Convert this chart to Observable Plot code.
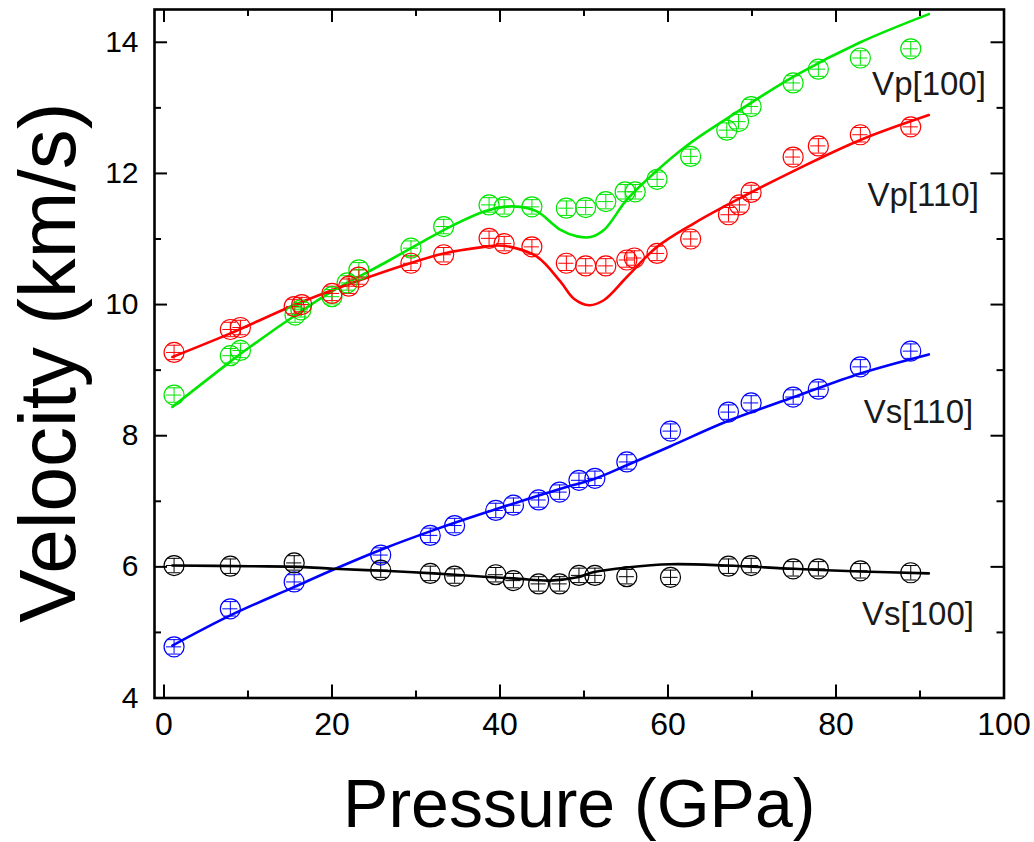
<!DOCTYPE html>
<html>
<head>
<meta charset="utf-8">
<script src="https://cdn.jsdelivr.net/npm/d3@7"></script>
<script src="https://cdn.jsdelivr.net/npm/@observablehq/plot@0.6"></script>
<style>
  html, body { margin: 0; padding: 0; background: #ffffff; }
  #chart svg { display: block; }
</style>
</head>
<body>
<div id="chart"></div>
<script>
// Vp[100] (green)
const vp100Pressure = [1.2, 7.9, 9.1, 15.6, 16.3, 20.0, 21.8, 23.2, 29.4, 33.3, 38.7, 40.5, 43.8, 47.9, 50.2, 52.6, 54.9, 56.1, 58.7, 62.7, 67.0, 68.4, 69.9, 74.9, 77.9, 82.9, 88.9];
const vp100Velocity = [8.62, 9.22, 9.30, 9.84, 9.92, 10.12, 10.33, 10.53, 10.86, 11.19, 11.52, 11.49, 11.49, 11.47, 11.48, 11.57, 11.72, 11.72, 11.91, 12.26, 12.66, 12.79, 13.02, 13.38, 13.59, 13.76, 13.90];
// Vp[110] (red)
const vp110Pressure = [1.2, 7.9, 9.1, 15.5, 16.4, 20.0, 22.0, 23.2, 29.4, 33.3, 38.7, 40.5, 43.8, 47.9, 50.2, 52.6, 55.1, 56.0, 58.7, 62.7, 67.2, 68.5, 69.9, 74.9, 77.9, 82.9, 88.9];
const vp110Velocity = [9.27, 9.62, 9.65, 9.97, 10.00, 10.17, 10.28, 10.42, 10.63, 10.76, 11.01, 10.93, 10.88, 10.63, 10.59, 10.59, 10.68, 10.71, 10.78, 11.00, 11.37, 11.52, 11.71, 12.25, 12.42, 12.59, 12.71];
// Vs[110] (blue) and Vs[100] (black) share pressures
const vsPressure = [1.2, 7.9, 15.5, 25.8, 31.7, 34.6, 39.5, 41.6, 44.6, 47.1, 49.4, 51.3, 55.1, 60.3, 67.2, 69.9, 74.9, 77.9, 82.9, 88.9];
const vs110Velocity = [4.78, 5.36, 5.77, 6.18, 6.48, 6.63, 6.86, 6.94, 7.02, 7.14, 7.32, 7.35, 7.60, 8.07, 8.36, 8.50, 8.59, 8.71, 9.05, 9.29];
const vs100Velocity = [6.02, 6.01, 6.06, 5.95, 5.90, 5.86, 5.88, 5.79, 5.74, 5.74, 5.87, 5.87, 5.85, 5.84, 6.01, 6.02, 5.97, 5.97, 5.94, 5.91];

// ---------- fitted curves (sampled from the figure) ----------
const vp100FitPressure = [1.0, 7.9, 10.3, 16.25, 20.0, 26.2, 30.1, 34.1, 38.1, 40.45, 42.4, 44.4, 47.2, 49.2, 50.8, 52.4, 55.1, 58.3, 62.3, 67.05, 75.0, 82.9, 91.05];
const vp100FitVelocity = [8.44, 9.13, 9.36, 9.89, 10.20, 10.63, 10.91, 11.19, 11.42, 11.49, 11.49, 11.42, 11.14, 11.04, 11.03, 11.14, 11.60, 12.00, 12.43, 12.84, 13.48, 14.00, 14.43];
const vp110FitPressure = [1.0, 7.9, 15.45, 22.2, 29.3, 33.3, 38.1, 39.7, 41.25, 44.4, 47.2, 48.8, 50.6, 52.4, 55.1, 58.7, 63.1, 67.05, 75.0, 82.9, 91.05];
const vp110FitVelocity = [9.20, 9.56, 9.99, 10.32, 10.63, 10.78, 10.88, 10.90, 10.88, 10.73, 10.35, 10.09, 9.99, 10.07, 10.42, 10.88, 11.24, 11.52, 12.04, 12.51, 12.89];
const vs110FitPressure = [1.0, 7.9, 15.45, 20.2, 26.2, 32.1, 38.1, 48.0, 51.2, 55.1, 60.3, 67.05, 75.0, 82.9, 91.05];
const vs110FitVelocity = [4.80, 5.26, 5.69, 5.96, 6.28, 6.56, 6.82, 7.22, 7.34, 7.55, 7.84, 8.22, 8.59, 8.95, 9.24];
const vs100FitPressure = [1.0, 10.3, 16.25, 20.2, 26.2, 32.1, 38.1, 42.0, 46.0, 49.2, 51.2, 55.1, 60.3, 67.05, 75.0, 82.9, 91.05];
const vs100FitVelocity = [6.02, 6.01, 6.00, 5.97, 5.94, 5.90, 5.85, 5.82, 5.79, 5.84, 5.92, 5.99, 6.04, 6.02, 5.97, 5.93, 5.90];

// error bar half-widths
const velocityError = 0.11;   // km/s
const pressureError = 0.9;    // GPa
const capHalfWidth = 0.75;    // GPa

// series names / colours
const seriesNames = ["Vp[100]", "Vp[110]", "Vs[110]", "Vs[100]"];
const seriesColors = ["#00e600", "#ff0000", "#0000ff", "#000000"];
// label anchors (pressure, velocity at text baseline start)
const labelPressure = [84.3, 83.75, 83.3, 83.1];
const labelVelocity = [13.2, 11.51, 8.195, 5.107];

// axis ticks
const pressureMajor = [0, 20, 40, 60, 80, 100];
const pressureMinor = [10, 30, 50, 70, 90];
const velocityMajor = [4, 6, 8, 10, 12, 14];
const velocityMinor = [5, 7, 9, 11, 13];

// ---------- build tables ----------
const pointSets = [
  [vp100Pressure, vp100Velocity],
  [vp110Pressure, vp110Velocity],
  [vsPressure, vs110Velocity],
  [vsPressure, vs100Velocity]
];
const fitSets = [
  [vp100FitPressure, vp100FitVelocity],
  [vp110FitPressure, vp110FitVelocity],
  [vs110FitPressure, vs110FitVelocity],
  [vs100FitPressure, vs100FitVelocity]
];
const points = [];
pointSets.forEach(([P, V], i) => P.forEach((p, j) => points.push({series: seriesNames[i], color: seriesColors[i], P: p, V: V[j]})));
const fits = [];
fitSets.forEach(([P, V], i) => P.forEach((p, j) => fits.push({series: seriesNames[i], color: seriesColors[i], P: p, V: V[j]})));
const labels = seriesNames.map((s, i) => ({name: s, P: labelPressure[i], V: labelVelocity[i]}));

// ---------- layout ----------
const W = 1034, H = 842;
const mL = 154, mR = 1034 - 1003.5, mT = 9, mB = 842 - 697.5;
const plotH = H - mT - mB;
const plotW = W - mL - mR;
const majorLen = 13, minorLen = 7;
const font = "'Liberation Sans', Arial, Helvetica, sans-serif";

const chart = Plot.plot({
  width: W,
  height: H,
  marginLeft: mL,
  marginRight: mR,
  marginTop: mT,
  marginBottom: mB,
  style: {fontFamily: font, background: "#ffffff", color: "#000000", overflow: "visible"},
  x: {domain: [-1.13, 100], label: null},
  y: {domain: [4, 14.5], label: null},
  marks: [
    // inward ticks: bottom / top
    Plot.ruleX(pressureMajor, {insetTop: plotH - majorLen, stroke: "#000", strokeWidth: 2}),
    Plot.ruleX(pressureMinor, {insetTop: plotH - minorLen, stroke: "#000", strokeWidth: 2}),
    Plot.ruleX(pressureMajor, {insetBottom: plotH - majorLen, stroke: "#000", strokeWidth: 2}),
    Plot.ruleX(pressureMinor, {insetBottom: plotH - minorLen, stroke: "#000", strokeWidth: 2}),
    // inward ticks: left / right
    Plot.ruleY(velocityMajor, {insetRight: plotW - majorLen, stroke: "#000", strokeWidth: 2}),
    Plot.ruleY(velocityMinor, {insetRight: plotW - minorLen, stroke: "#000", strokeWidth: 2}),
    Plot.ruleY(velocityMajor, {insetLeft: plotW - majorLen, stroke: "#000", strokeWidth: 2}),
    Plot.ruleY(velocityMinor, {insetLeft: plotW - minorLen, stroke: "#000", strokeWidth: 2}),
    // tick labels
    Plot.axisX(pressureMajor, {anchor: "bottom", tickSize: 0, tickPadding: 14, fontSize: 32, label: null, fill: "#000", tickFormat: d => String(d)}),
    Plot.axisY(velocityMajor, {anchor: "left", tickSize: 0, tickPadding: 16, fontSize: 30, label: null, fill: "#000", tickFormat: d => String(d)}),
    // fitted curves
    Plot.line(fits, {x: "P", y: "V", z: "series", stroke: "color", strokeWidth: 2.6, curve: "catmull-rom"}),
    // error bars
    Plot.ruleX(points, {x: "P", y1: d => d.V - velocityError, y2: d => d.V + velocityError, stroke: "color", strokeWidth: 1}),
    Plot.ruleY(points, {y: d => d.V + velocityError, x1: d => d.P - capHalfWidth, x2: d => d.P + capHalfWidth, stroke: "color", strokeWidth: 1}),
    Plot.ruleY(points, {y: d => d.V - velocityError, x1: d => d.P - capHalfWidth, x2: d => d.P + capHalfWidth, stroke: "color", strokeWidth: 1}),
    Plot.ruleY(points, {y: "V", x1: d => d.P - pressureError, x2: d => d.P + pressureError, stroke: "color", strokeWidth: 1}),
    // markers
    Plot.dot(points, {x: "P", y: "V", r: 10, stroke: "color", strokeWidth: 1.2, fill: "none"}),
    // series labels
    Plot.text(labels, {x: "P", y: "V", text: "name", textAnchor: "start", lineAnchor: "bottom", fontSize: 33, fill: "#1a1a1a"}),
    // axis titles
    Plot.text(["Pressure (GPa)"], {frameAnchor: "bottom", text: d => d, textAnchor: "middle", lineAnchor: "bottom", dy: 128.5, fontSize: 68, fill: "#000"}),
    Plot.text(["Velocity (km/s)"], {frameAnchor: "left", text: d => d, rotate: -90, textAnchor: "middle", lineAnchor: "bottom", dx: -80, dy: 9, fontSize: 80, fill: "#000"}),
    // frame
    Plot.frame({stroke: "#000", strokeWidth: 2.6})
  ]
});
document.getElementById("chart").appendChild(chart);
</script>
</body>
</html>
